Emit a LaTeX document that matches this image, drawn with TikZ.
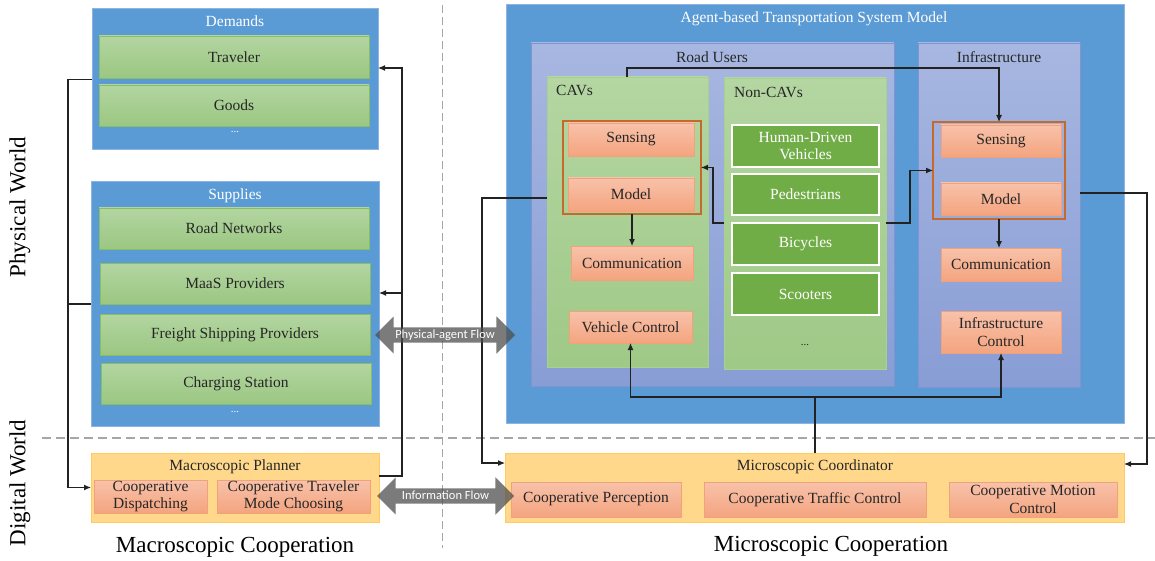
\documentclass[tikz,border=0pt]{standalone}
\usepackage{fontspec}
\setmainfont{Liberation Serif}
\newfontfamily\flowfont{Carlito}
\usetikzlibrary{arrows.meta,shapes.arrows,calc}

\definecolor{boxblue}{HTML}{5B9BD5}
\definecolor{boxblueline}{HTML}{8DB4E2}
\definecolor{lavtop}{HTML}{A8B7E1}
\definecolor{lavbot}{HTML}{889DD5}
\definecolor{lavline}{HTML}{7F95D0}
\definecolor{pgtop}{HTML}{B4D6A2}
\definecolor{pgbot}{HTML}{9FC987}
\definecolor{pgline}{HTML}{A9D18E}
\definecolor{gitop}{HTML}{B3D5A1}
\definecolor{gibot}{HTML}{9BC782}
\definecolor{giline}{HTML}{86BE62}
\definecolor{dkgreen}{HTML}{70AD47}
\definecolor{ortop}{HTML}{F8C2AA}
\definecolor{orbot}{HTML}{F4A47F}
\definecolor{orline}{HTML}{F2A279}
\definecolor{frameline}{HTML}{C8692C}
\definecolor{ylw}{HTML}{FFD88C}
\definecolor{ylwline}{HTML}{FFCB5C}
\definecolor{flowgray}{HTML}{4D4D4D}
\definecolor{conncol}{HTML}{222222}
\definecolor{txt}{HTML}{262626}
\definecolor{divgray}{HTML}{A6A6A6}

% box placed by its corners (x1,y1) (x2,y2)
\newcommand\mkbox[7]{\node[#2, minimum width={#5pt-#3pt}, minimum height={#6pt-#4pt}] (#1) at ({(#3+#5)/2},{(#4+#6)/2}) {#7};}

\begin{document}
\begin{tikzpicture}[x=1pt,y=-1pt,
  base/.style={rectangle, inner sep=0pt, outer sep=0pt, align=center,
    font=\fontsize{15.5}{17.5}\selectfont, text=txt},
  bluebox/.style={base, fill=boxblue, draw=boxblueline, line width=1pt},
  lavbox/.style={base, top color=lavtop, bottom color=lavbot, draw=lavline, line width=0.8pt},
  pgbox/.style={base, top color=pgtop, bottom color=pgbot, draw=pgline, line width=0.8pt},
  gitem/.style={base, top color=gitop, bottom color=gibot, draw=giline, line width=0.8pt},
  dgitem/.style={base, fill=dkgreen, draw=white, line width=1.5pt, text=white},
  oritem/.style={base, top color=ortop, bottom color=orbot, draw=orline, line width=0.8pt},
  orframe/.style={base, draw=frameline, line width=1.2pt},
  ybox/.style={base, fill=ylw, draw=ylwline, line width=1pt},
  ttl/.style={font=\fontsize{15.5}{17.5}\selectfont, text=txt, inner sep=0pt},
  wttl/.style={ttl, text=white},
  big/.style={font=\fontsize{23}{26}\selectfont, text=black, inner sep=0pt},
  dots/.style={font=\fontsize{11}{13}\selectfont, inner sep=0pt},
  conn/.style={draw=conncol, line width=1.1pt},
  arr/.style={conn, -{Latex[length=7pt,width=6pt]}},
  divider/.style={draw=divgray, line width=1.6pt, dash pattern=on 9pt off 5pt},
  vdivider/.style={draw=divgray, line width=1pt, dash pattern=on 8pt off 4pt},
  flow/.style={shape=double arrow, double arrow head extend=11pt, double arrow tip angle=90,
    minimum width=37pt, inner xsep=0pt, inner ysep=2pt, text height=8.5pt, text depth=2.5pt,
    fill=flowgray, fill opacity=0.74, text opacity=1, text=white,
    font=\flowfont\fontsize{12.5}{14}\selectfont}
]
\useasboundingbox (0,0) rectangle (1155,561);
\fill[white] (0,0) rectangle (1155,561);

% world separators
\draw[divider] (42,438) -- (1155,438);
\draw[vdivider] (442,5) -- (442,548);

% ---------------- macroscopic side ----------------
\mkbox{dem}{bluebox}{92}{9}{378}{150}{}
\node[wttl] (demT) at (235,21) {Demands};
\mkbox{trav}{gitem}{99}{36}{369}{78}{Traveler}
\mkbox{goods}{gitem}{99}{85}{369}{126}{Goods}
\node[dots, text=white] (demD) at (235,132) {...};

\mkbox{sup}{bluebox}{91}{182}{379}{426}{}
\node[wttl] (supT) at (235,196) {Supplies};
\mkbox{road}{gitem}{99}{208}{369}{249}{Road Networks}
\mkbox{maas}{gitem}{100}{263}{370}{304}{MaaS Providers}
\mkbox{freight}{gitem}{100}{314}{370}{355}{Freight Shipping Providers}
\mkbox{charge}{gitem}{101}{363}{371}{404}{Charging Station}
\node[dots, text=white] (supD) at (235,412) {...};

\mkbox{mp}{ybox}{91}{453}{379}{522}{}
\node[ttl] (mpT) at (235,467) {Macroscopic Planner};
\mkbox{disp}{oritem}{94}{480}{207}{513}{Cooperative\\Dispatching}
\mkbox{mode}{oritem}{217}{480}{370}{513}{Cooperative Traveler\\Mode Choosing}

% ---------------- microscopic side ----------------
\mkbox{abts}{bluebox}{506}{5}{1124}{423}{}
\node[wttl] (abtsT) at (814,19) {Agent-based Transportation System Model};

\mkbox{ru}{lavbox}{531}{43}{894}{386}{}
\node[ttl] (ruT) at (712,57) {Road Users};
\mkbox{infra}{lavbox}{918}{43}{1080}{387}{}
\node[ttl] (infraT) at (999,57) {Infrastructure};

\mkbox{cav}{pgbox}{547}{77}{708}{367}{}
\node[ttl, anchor=west] (cavT) at (556,90) {CAVs};
\mkbox{cavf}{orframe}{563}{121}{701}{214}{}
\mkbox{csens}{oritem}{568}{123}{694}{156}{Sensing}
\mkbox{cmodel}{oritem}{568}{178}{694}{211}{Model}
\mkbox{ccom}{oritem}{571}{246}{693}{280}{Communication}
\mkbox{vc}{oritem}{569}{311}{692}{343}{Vehicle Control}

\mkbox{ncav}{pgbox}{724}{78}{886}{369}{}
\node[ttl, anchor=west] (ncavT) at (734,92) {Non-CAVs};
\mkbox{hdv}{dgitem}{732}{125}{879}{167}{Human-Driven\\Vehicles}
\mkbox{ped}{dgitem}{732}{174}{879}{215}{Pedestrians}
\mkbox{bic}{dgitem}{732}{223}{879}{265}{Bicycles}
\mkbox{sco}{dgitem}{732}{273}{879}{315}{Scooters}
\node[dots, text=txt] (ncavD) at (805,345) {...};

\mkbox{inff}{orframe}{933}{122}{1065}{219}{}
\mkbox{isens}{oritem}{941}{125}{1061}{157}{Sensing}
\mkbox{imodel}{oritem}{941}{183}{1061}{215}{Model}
\mkbox{icom}{oritem}{941}{248}{1061}{281}{Communication}
\mkbox{ictl}{oritem}{941}{311}{1061}{353}{Infrastructure\\Control}

\mkbox{mc}{ybox}{505}{453}{1124}{522}{}
\node[ttl] (mcT) at (815,467) {Microscopic Coordinator};
\mkbox{cperc}{oritem}{511}{482}{681}{517}{Cooperative Perception}
\mkbox{ctraf}{oritem}{704}{482}{926}{517}{Cooperative Traffic Control}
\mkbox{cmot}{oritem}{949}{482}{1117}{517}{Cooperative Motion\\Control}

% ---------------- connectors ----------------
% left loop: demands and supplies feed the planner
\coordinate (lx) at (68,79);
\draw[arr] (dem.west) -- (lx |- dem.west) -- (lx |- mp.west) -- (mp.west);
\draw[conn] (sup.west) -- (lx |- sup.west);
% right loop: planner returns to demands and supplies
\coordinate (rlow) at (402,476);
\coordinate (rtop) at (402,68);
\coordinate (rmid) at (402,293);
\draw[arr] (mp.east |- rlow) -- (rlow) -- (rtop) -- (dem.east |- rtop);
\draw[arr] (rmid) -- (sup.east |- rmid);

% inside the agent-based model
\draw[arr] (cavf.south) -- (cavf.south |- ccom.north);
\draw[arr] (inff.south) -- (inff.south |- icom.north);
\coordinate (t1) at (627,68);
\draw[arr] (cav.north -| t1) -- (t1) -- (t1 -| inff.north) -- (inff.north);
\coordinate (t2) at (713,223);
\draw[arr] (ncav.west |- t2) -- (t2) -- (t2 |- cavf.east) -- (cavf.east);
\coordinate (t3) at (910,223);
\draw[arr] (ncav.east |- t3) -- (t3) -- (t3 |- inff.west) -- (inff.west);

% model to coordinator and back
\coordinate (t4) at (482,198);
\coordinate (t4b) at (482,463);
\draw[arr] (cav.west |- t4) -- (t4) -- (t4b) -- (mc.west |- t4b);
\coordinate (t5) at (1147,193);
\coordinate (t5b) at (1147,464);
\draw[arr] (infra.east |- t5) -- (t5) -- (t5b) -- (mc.east |- t5b);
\coordinate (t6) at (815,397);
\draw[conn] (mc.north -| t6) -- (t6);
\draw[arr] (t6) -- (t6 -| vc.south) -- (vc.south);
\draw[arr] (t6) -- (t6 -| ictl.south) -- (ictl.south);

% flows between the two scales
\node[flow, minimum height=140pt] (pflow) at (445,335) {Physical-agent Flow};
\node[flow, minimum height=137pt] (iflow) at (445.5,496) {Information Flow};

% side and bottom labels
\node[big, rotate=90] (pw) at (20,207) {Physical World};
\node[big, rotate=90] (dw) at (20,483) {Digital World};
\node[big] (macro) at (235,547) {Macroscopic Cooperation};
\node[big] (micro) at (831,546) {Microscopic Cooperation};
\end{tikzpicture}
\end{document}
